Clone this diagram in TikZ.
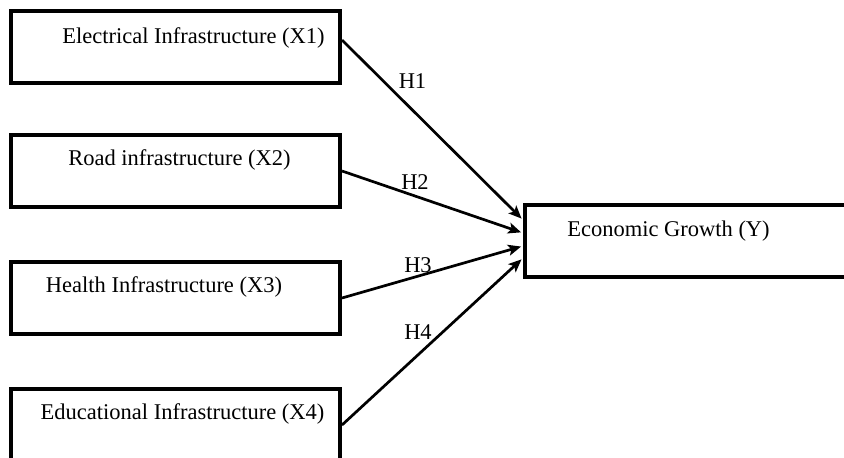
\documentclass[tikz,border=0pt]{standalone}
\usepackage{fontspec}
\setmainfont{Liberation Serif}
\usetikzlibrary{arrows.meta,calc}
\tikzset{
  varbox/.style={draw, line width=4pt, minimum width=329pt, minimum height=72pt, inner sep=0pt},
  ybox/.style={draw, line width=4pt, minimum width=335pt, minimum height=72pt, inner sep=0pt},
  lbl/.style={anchor=base, inner sep=0pt, font=\fontsize{22.5}{27}\selectfont},
  hlbl/.style={anchor=base, inner sep=0pt, font=\fontsize{22.5}{27}\selectfont},
  conn/.style={line width=2.7pt, -{Stealth[length=13pt,width=11pt,inset=3pt]}, shorten >=2pt}
}
\begin{document}
\begin{tikzpicture}[x=1pt,y=-1pt]
\path[use as bounding box, clip] (0,0) rectangle (844,458);
\fill[white] (0,0) rectangle (844,458);
% boxes
\node[varbox] (x1) at (175.5,47) {};
\node[varbox] (x2) at (175.5,171) {};
\node[varbox] (x3) at (175.5,298) {};
\node[varbox] (x4) at (175.5,425) {};
\node[ybox] (y) at (692.5,241) {};
% texts
\node[lbl] (t1) at (193.5,43) {Electrical Infrastructure (X1)};
\node[lbl] (t2) at (179.5,165) {Road infrastructure (X2)};
\node[lbl] (t3) at (164,292) {Health Infrastructure (X3)};
\node[lbl] (t4) at (182.5,419) {Educational Infrastructure (X4)};
\node[lbl] (ty) at (668.5,236) {Economic Growth (Y)};
% connectors
\draw[conn] ($(x1.east)+(0,-7)$) -- ($(y.west)+(0,-21)$);
\draw[conn] (x2.east) -- ($(y.west)+(0,-8)$);
\draw[conn] (x3.east) -- ($(y.west)+(0,5)$);
\draw[conn] (x4.east) -- ($(y.west)+(0,17)$);
% hypothesis labels
\node[hlbl] (h1) at (412.5,88) {H1};
\node[hlbl] (h2) at (415,189) {H2};
\node[hlbl] (h3) at (418,272) {H3};
\node[hlbl] (h4) at (418,339) {H4};
\end{tikzpicture}
\end{document}
